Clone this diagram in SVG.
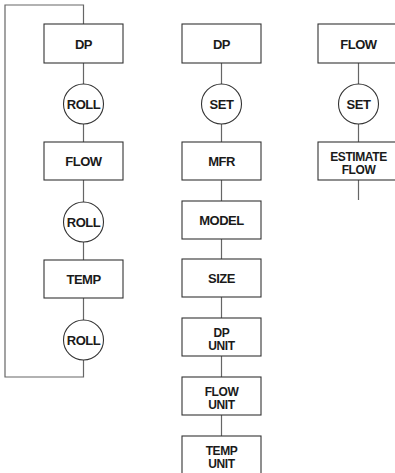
<svg xmlns="http://www.w3.org/2000/svg" width="395" height="473" viewBox="0 0 395 473">
<style>
.box{fill:#fff;stroke:#333;stroke-width:1.1}
.circ{fill:#fff;stroke:#333;stroke-width:1.1}
.conn{fill:none;stroke:#666;stroke-width:1.2}
text{font-family:"Liberation Sans",Arial,sans-serif;font-weight:bold;font-size:13px;letter-spacing:-0.5px;fill:#1a1a1a;text-anchor:middle}
text.two{font-size:12px;letter-spacing:-0.4px}
</style>
<rect width="395" height="473" fill="#fff"/>
<g id="connectors">
<path class="conn" d="M83.5,24 V5 H5 V377 H83.5 V360"/>
<path class="conn" d="M83.5,63 V84 M83.5,124 V142 M83.5,180 V202 M83.5,242 V260 M83.5,298 V320"/>
<path class="conn" d="M221.5,63 V84 M221.5,124 V142 M221.5,180 V201 M221.5,239 V259 M221.5,297 V318 M221.5,356 V377 M221.5,415 V436"/>
<path class="conn" d="M358.5,63 V84 M358.5,124 V142 M358.5,180 V200"/>
</g>
<g id="c1-dp"><rect class="box" x="44" y="24" width="79" height="39"/><text x="83.5" y="48.5">DP</text></g>
<g id="c1-roll1"><circle class="circ" cx="83.5" cy="104" r="20"/><text x="83.5" y="108.5">ROLL</text></g>
<g id="c1-flow"><rect class="box" x="44" y="142" width="79" height="38"/><text x="83.5" y="166">FLOW</text></g>
<g id="c1-roll2"><circle class="circ" cx="83.5" cy="222" r="20"/><text x="83.5" y="226.5">ROLL</text></g>
<g id="c1-temp"><rect class="box" x="44" y="260" width="79" height="38"/><text x="83.5" y="284">TEMP</text></g>
<g id="c1-roll3"><circle class="circ" cx="83.5" cy="340" r="20"/><text x="83.5" y="344.5">ROLL</text></g>
<g id="c2-dp"><rect class="box" x="182" y="24" width="79" height="39"/><text x="221.5" y="48.5">DP</text></g>
<g id="c2-set"><circle class="circ" cx="221.5" cy="104" r="20"/><text x="221.5" y="108.5">SET</text></g>
<g id="c2-mfr"><rect class="box" x="182" y="142" width="79" height="38"/><text x="221.5" y="166">MFR</text></g>
<g id="c2-model"><rect class="box" x="182" y="201" width="79" height="38"/><text x="221.5" y="225">MODEL</text></g>
<g id="c2-size"><rect class="box" x="182" y="259" width="79" height="38"/><text x="221.5" y="283">SIZE</text></g>
<g id="c2-dpunit"><rect class="box" x="182" y="318" width="79" height="38"/><text class="two" x="221.5" y="336.5">DP</text><text class="two" x="221.5" y="349.5">UNIT</text></g>
<g id="c2-flowunit"><rect class="box" x="182" y="377" width="79" height="38"/><text class="two" x="221.5" y="395.5">FLOW</text><text class="two" x="221.5" y="408.5">UNIT</text></g>
<g id="c2-tempunit"><rect class="box" x="182" y="436" width="79" height="38"/><text class="two" x="221.5" y="454.5">TEMP</text><text class="two" x="221.5" y="467.5">UNIT</text></g>
<g id="c3-flow"><rect class="box" x="318" y="24" width="82" height="39"/><text x="358.5" y="48.5">FLOW</text></g>
<g id="c3-set"><circle class="circ" cx="358.5" cy="104" r="20"/><text x="358.5" y="108.5">SET</text></g>
<g id="c3-estimate"><rect class="box" x="318" y="142" width="82" height="38"/><text class="two" x="358.5" y="160.5">ESTIMATE</text><text class="two" x="358.5" y="173.5">FLOW</text></g>
</svg>
